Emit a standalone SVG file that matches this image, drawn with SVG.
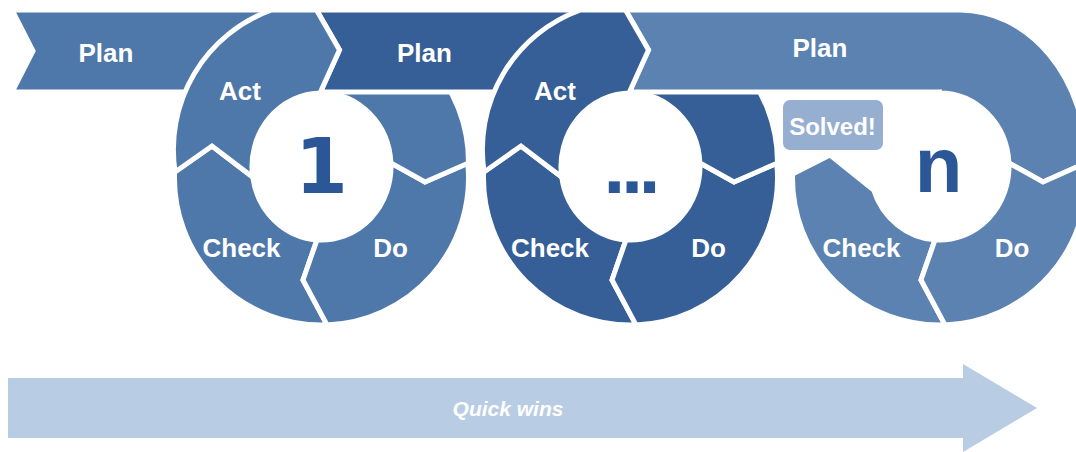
<svg xmlns="http://www.w3.org/2000/svg" xmlns:xlink="http://www.w3.org/1999/xlink" width="1076" height="452" viewBox="0 0 1076 452">
  <style>
    .seg { stroke: #ffffff; stroke-width: 5; stroke-linejoin: miter; }
    .c1 { fill: #4f78aa; }
    .c2 { fill: #355f96; }
    .c3 { fill: #5b82b0; }
    .lbl { font-family: "Liberation Sans", Arial, sans-serif; font-weight: bold; font-size: 26px; fill: #ffffff; text-anchor: middle; }
    .num { font-family: "Liberation Sans", Arial, sans-serif; font-weight: bold; font-size: 78px; fill: #2b5797; text-anchor: middle; }
    .solved { fill: #96afd0; }
    .quick { fill: #b8cce4; }
    .qtxt { font-family: "Liberation Sans", Arial, sans-serif; font-weight: bold; font-style: italic; font-size: 21px; fill: #ffffff; text-anchor: middle; }
  </style>
  <defs>
    <path id="check" d="M -146.9 172 L -109.5 146 L -68.8 177 A 69.5 73.5 0 0 0 -4.5 239.85 L -18.5 280 L 5.5 324.9 A 147 147 0 0 1 -146.9 172 Z"/>
    <path id="check3" d="M -146.95 174 L -109.5 155 L -65.85 190 A 69.5 73.5 0 0 0 -4.5 239.85 L -18.5 280 L 5.5 324.9 A 147 147 0 0 1 -146.95 174 Z"/>
    <path id="do" d="M 5.5 324.9 L -18.5 280 L -4.5 239.85 A 69.5 73.5 0 0 0 69.42 163 L 103.5 182 L 146.23 163 A 147 147 0 0 1 5.5 324.9 Z"/>
    <path id="planq" d="M 69.42 163 A 69.5 73.5 0 0 0 0 93 L 0 15 A 147 147 0 0 1 147 163 L 103.5 182 Z"/>
    <path id="act" d="M -146.4 172 A 148.3 148.3 0 0 1 -50 10 L -5 10 L 18 50 L -1 92 L 0 93 A 69.5 73.5 0 0 0 -68.8 177 L -109.5 146 Z"/>
  </defs>

  <g id="plan-band-1">
    <path class="seg c1" d="M 12 10 L 321.5 10 L 321.5 92 L 12 92 L 33 51 Z"/>
  </g>

  <g id="cycle-1">
    <use xlink:href="#check" x="321.5" class="seg c1"/>
    <use xlink:href="#do" x="321.5" class="seg c1"/>
    <use xlink:href="#planq" x="321.5" class="seg c1"/>
  </g>

  <g id="plan-band-2">
    <path class="seg c2" d="M 316.5 10 L 339.5 50 L 320.5 92 L 630.5 92 L 630.5 10 Z"/>
  </g>

  <g id="act-1">
    <use xlink:href="#act" x="321.5" class="seg c1"/>
  </g>

  <g id="cycle-2">
    <use xlink:href="#check" x="630.5" class="seg c2"/>
    <use xlink:href="#do" x="630.5" class="seg c2"/>
    <use xlink:href="#planq" x="630.5" class="seg c2"/>
  </g>

  <g id="plan-band-3">
    <path class="seg c3" d="M 625.5 10 L 648.5 50 L 629.5 92 L 939.5 92 L 939.5 93 A 69.5 73.5 0 0 1 1008.92 163 L 1043 182 L 1086.5 163 A 126.5 153 0 0 0 960 10 Z"/>
  </g>

  <g id="act-2">
    <use xlink:href="#act" x="630.5" class="seg c2"/>
  </g>

  <g id="cycle-3">
    <use xlink:href="#check3" x="939.5" class="seg c3"/>
    <use xlink:href="#do" x="939.5" class="seg c3"/>
  </g>

  <g id="labels">
    <text class="lbl" x="106" y="62">Plan</text>
    <text class="lbl" x="424.5" y="62">Plan</text>
    <text class="lbl" x="820" y="57">Plan</text>
    <text class="lbl" x="240" y="100">Act</text>
    <text class="lbl" x="555" y="100">Act</text>
    <text class="lbl" x="241.5" y="257">Check</text>
    <text class="lbl" x="390.5" y="257">Do</text>
    <text class="lbl" x="550" y="257">Check</text>
    <text class="lbl" x="708.5" y="257">Do</text>
    <text class="lbl" x="861.5" y="257">Check</text>
    <text class="lbl" x="1012" y="257">Do</text>
  </g>

  <g id="numbers">
    <text class="num" x="321.5" y="193" style="font-family:'DejaVu Sans',sans-serif;font-size:76px">1</text>
    <text class="num" x="630" y="193" style="letter-spacing:-4px">...</text>
    <text class="num" x="938.5" y="192">n</text>
  </g>

  <g id="solved">
    <rect class="solved" x="783" y="100" width="100" height="50" rx="7" ry="7"/>
    <text class="lbl" x="832.5" y="135" style="font-size:24px">Solved!</text>
  </g>

  <g id="quick-wins">
    <path class="quick" d="M 8 378 L 963 378 L 963 364 L 1037 408 L 963 452 L 963 438 L 8 438 Z"/>
    <text class="qtxt" x="508" y="416">Quick wins</text>
  </g>
</svg>
